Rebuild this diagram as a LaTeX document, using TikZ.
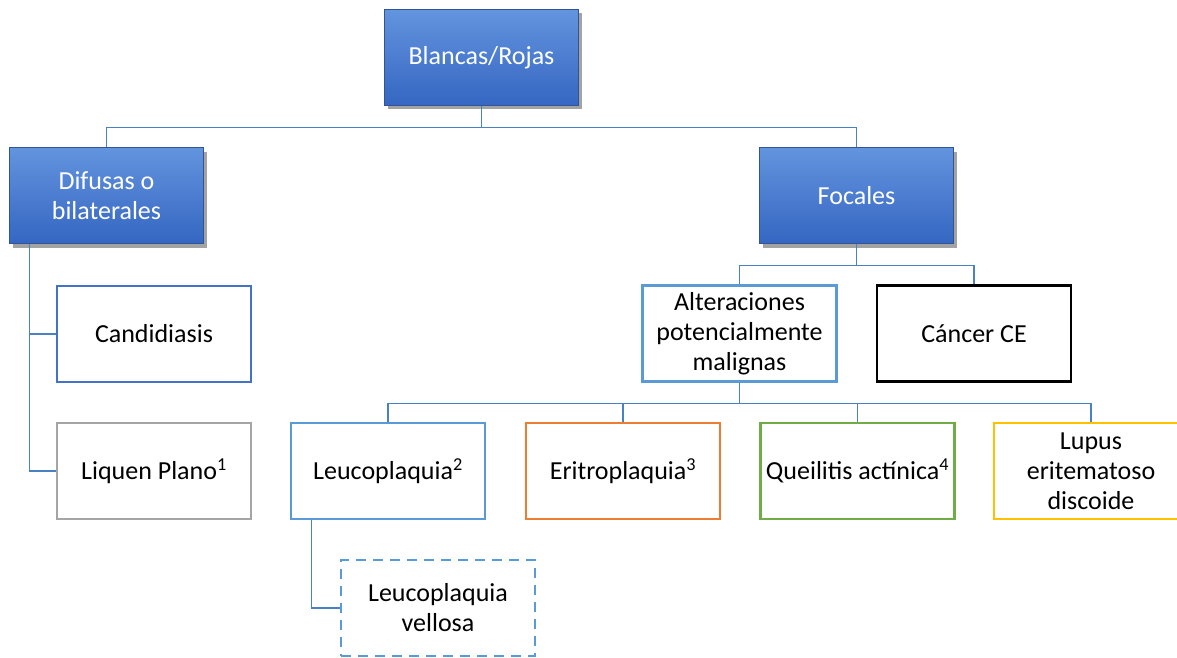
\documentclass[tikz,border=0pt]{standalone}
\usepackage{fontspec}
\setmainfont{Carlito}
\usetikzlibrary{shadows}
\definecolor{bluetop}{HTML}{6394DE}
\definecolor{bluebot}{HTML}{3566C2}
\definecolor{blueedge}{HTML}{2F5597}
\definecolor{cblue}{HTML}{4472C4}
\definecolor{lblue}{HTML}{5B9BD5}
\definecolor{cgray}{HTML}{A5A5A5}
\definecolor{corange}{HTML}{ED7D31}
\definecolor{cgreen}{HTML}{70AD47}
\definecolor{cgold}{HTML}{FFC000}
\definecolor{conn}{HTML}{4A80C4}
\tikzset{
  box/.style={rectangle, minimum width=194pt, minimum height=96pt, inner sep=0pt,
    align=center, font=\fontsize{26}{30}\selectfont, line width=2.4pt, fill=white},
  bluebox/.style={box, line width=0.6pt, draw=blueedge, top color=bluetop, bottom color=bluebot,
    text=white, drop shadow={shadow xshift=3pt, shadow yshift=-4pt, opacity=0.45, fill=black!80}},
  link/.style={draw=conn, line width=1.1pt}
}
\begin{document}
\begin{tikzpicture}[x=1pt,y=-1pt]
\useasboundingbox (0,0) rectangle (1177,658);
\clip (0,0) rectangle (1177,658);
\fill[white] (0,0) rectangle (1177,658);
\node[bluebox] (top) at (481.5,57.5) {Blancas/Rojas};
\node[bluebox] (dif) at (106.5,195.5) {Difusas o\\bilaterales};
\node[bluebox] (foc) at (856.5,195.5) {Focales};
\node[box, draw=cblue] (cand) at (154,334) {Candidiasis};
\node[box, draw=cgray] (liq) at (154,471) {Liquen Plano\textsuperscript{1}};
\node[box, draw=lblue] (alt) at (739.5,333.5) {Alteraciones\\potencialmente\\malignas};
\node[box, draw=black] (can) at (974,333.5) {Cáncer CE};
\node[box, draw=lblue] (leu) at (388,471) {Leucoplaquia\textsuperscript{2}};
\node[box, draw=corange] (eri) at (623,471) {Eritroplaquia\textsuperscript{3}};
\node[box, draw=cgreen] (que) at (857.5,471) {Queilitis actínica\textsuperscript{4}};
\node[box, draw=cgold] (lup) at (1091,471) {Lupus\\eritematoso\\discoide};
\node[box, draw=lblue, dash pattern=on 10pt off 7pt] (vel) at (438,608) {Leucoplaquia\\vellosa};
\draw[link] (top.south) -- ++(0,22) -| (dif.north);
\draw[link] (top.south) -- ++(0,22) -| (foc.north);
\draw[link] ([xshift=20pt]dif.south west) |- (cand.west);
\draw[link] ([xshift=20pt]dif.south west) |- (liq.west);
\draw[link] (foc.south) -- ++(0,22) -| (alt.north);
\draw[link] (foc.south) -- ++(0,22) -| (can.north);
\draw[link] (alt.south) -- ++(0,21) -| (leu.north);
\draw[link] (alt.south) -- ++(0,21) -| (eri.north);
\draw[link] (alt.south) -- ++(0,21) -| (que.north);
\draw[link] (alt.south) -- ++(0,21) -| (lup.north);
\draw[link] ([xshift=22pt]leu.south west) |- (vel.west);
\end{tikzpicture}
\end{document}
